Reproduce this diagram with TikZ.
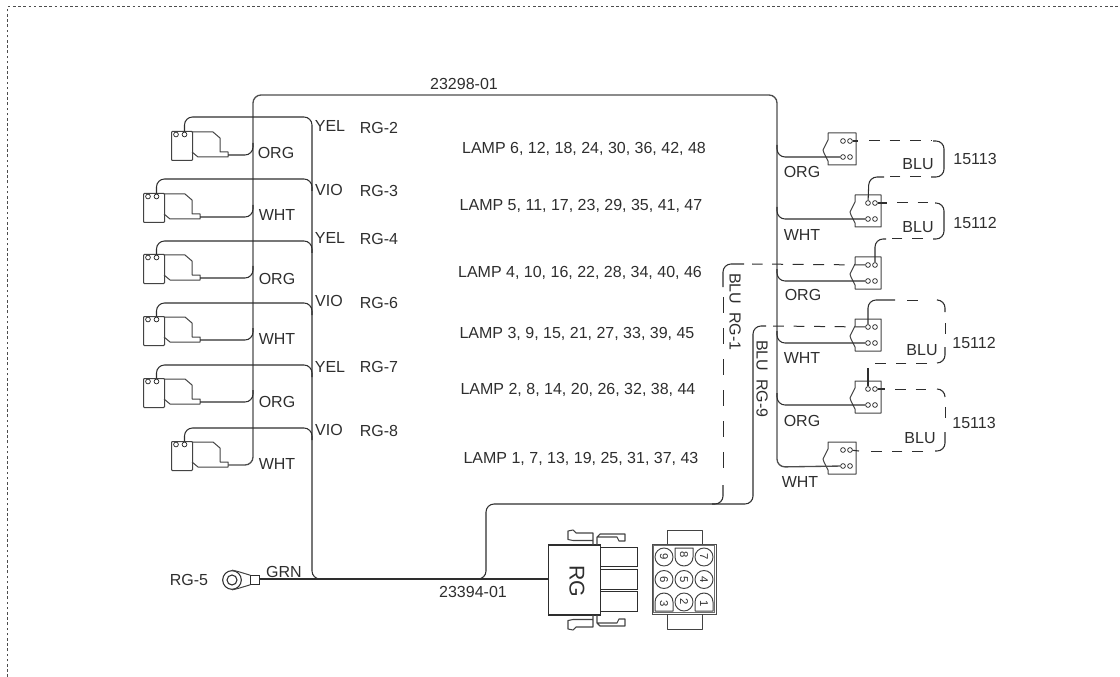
\documentclass[tikz,border=0pt]{standalone}
\usepackage{fontspec}
\setmainfont{Liberation Sans}
\definecolor{ink}{HTML}{2E2E2E}
\newcommand{\leftconn}[3]{% name, x, y
  \begin{scope}[shift={(#2,#3)}]
    \node[lbody,minimum width=21*0.75pt,minimum height=29*0.75pt,anchor=north west] (#1) at (0,0) {};
    \node[pin] (#1a) at (5,3.5) {};
    \node[pin] (#1b) at (13.5,3.5) {};
    \draw[thin line] (21,1) -- (42,1) -- (49,7) -- (49,21) -- (57,21) -- (57,26) -- (27,26) -- (21,21);
    \coordinate (#1t) at (57,24);
  \end{scope}}
\newcommand{\rightconn}[4]{% name, x, y, pin x offset
  \begin{scope}[shift={(#2,#3)}]
    \draw[thin line] (0,0) -- (#4+13,0) -- (#4+13,32) -- (0,32) -- (0,28) -- (-4,20) -- (-5,17) -- (0,7) -- cycle;
    \node[pin] (#1a) at (#4,8) {};
    \node[pin] (#1b) at (#4+7,8) {};
    \node[pin] (#1c) at (#4,24) {};
    \node[pin] (#1d) at (#4+7,24) {};
  \end{scope}}
\tikzset{
  x=0.75pt,y=-0.75pt,
  wire/.style={draw=ink,line width=0.8pt,rounded corners=6pt},
  trunk/.style={draw=ink!85,line width=1pt,rounded corners=6pt},
  dashwire/.style={draw=ink,line width=0.75pt,dash pattern=on 8.2pt off 7.2pt},
  longdash/.style={draw=ink,line width=0.75pt,dash pattern=on 12pt off 11.25pt},
  thin line/.style={draw=ink!90,line width=0.75pt,line join=round},
  lbody/.style={draw=ink!90,line width=0.75pt,inner sep=0pt,rounded corners=0.7pt},
  pin/.style={circle,draw=ink,fill=white,line width=0.55pt,minimum size=3.6pt,inner sep=0pt},
  lab/.style={text=ink,inner sep=0pt,yshift=-0.9pt,font=\fontsize{12}{14}\selectfont},
  rotlab/.style={text=ink,inner sep=0pt,rotate=-90,font=\fontsize{12}{14}\selectfont},
  num/.style={text=ink,inner sep=0pt,rotate=-90,font=\fontsize{8.5}{10}\selectfont},
  cav/.style={circle,draw=ink!90,line width=0.7pt,minimum size=13.5pt,inner sep=0pt},
}
\begin{document}
\begin{tikzpicture}
\useasboundingbox (0,0) rectangle (1120,677);
% dotted frame
\coordinate (fa) at (7.5,677);
\coordinate (fb) at (7.5,6.5);
\coordinate (fc) at (1120,6.5);
\draw[draw=ink!85,line width=0.75pt,dash pattern=on 2pt off 1.9pt] (fa) -- (fb) -- (fc);

% left connectors
\leftconn{La}{171}{131}
\leftconn{Lb}{143}{193}
\leftconn{Lc}{143}{254}
\leftconn{Ld}{143}{316}
\leftconn{Le}{143}{378}
\leftconn{Lf}{171}{441}

% right connectors
\rightconn{Ra}{828}{133}{15}
\rightconn{Rb}{855}{195}{13}
\rightconn{Rc}{855}{257}{13}
\rightconn{Rd}{855}{319}{13}
\rightconn{Re}{855}{381}{13}
\rightconn{Rf}{828}{442}{15}

% trunk with left and right branches
\coordinate (topL) at (253,95);
\coordinate (topR) at (777,95);
\coordinate (trunkL) at (253,465);
\coordinate (trunkR) at (777,467);
\draw[trunk] (Lft) -- (trunkL) -- (topL) -- (topR) -- (trunkR) -- (Rfc);
\foreach \n/\ty in {Lat/155,Lbt/217,Lct/278,Ldt/340,Let/402}{
  \draw[wire] (\n) -- (253,\ty) -- (253,\ty-12);
}
\foreach \n/\ty in {Rac/157,Rbc/219,Rcc/281,Rdc/343,Rec/405}{
  \draw[wire] (777,\ty-12) -- (777,\ty) -- (\n);
}

% second trunk
\coordinate (grnEnd) at (259,579);
\coordinate (secB) at (312,579);
\coordinate (plug) at (549,579);
\draw[draw=ink,line width=0.85pt] (grnEnd) -- (plug);
\draw[wire] (Lab.north) |- (312,117) -- (secB) -- (330,579);
\foreach \n/\ty in {Lbb/179,Lcb/241,Ldb/303,Leb/365,Lfb/428}{
  \draw[wire] (\n.north) |- (312,\ty) -- (312,\ty+12);
}

% harness to RG-9
\coordinate (h1) at (486,579);
\coordinate (h2) at (486,504);
\coordinate (h3) at (753,504);
\coordinate (h4) at (753,326);
\draw[wire] (474,579) -- (h1) -- (h2) -- (h3) -- (h4) -- (766,326);
\draw[dashwire] (773,326) -- (Rda);
% RG-1
\coordinate (v2) at (723,264);
\draw[wire] (723,287) -- (v2) -- (744,264);
\draw[dashwire] (Rca) -- (752,264);
\draw[longdash] (723,297) -- (723,481);
\draw[wire] (723,485) -- (723,504) -- (712,504);

% blue loops, right side
\draw[wire] (Rab) -- (858,141);
\draw[dashwire] (869,141) -- (931,141);
\draw[wire] (933,141) -- (944,141) -- (944,177) -- (931,177);
\draw[dashwire] (921,177) -- (890,177);
\draw[wire] (884,177) -- (869,177) -- (Rba);
\draw[wire] (Rbb) -- (887,203);
\draw[dashwire] (897,203) -- (929,203);
\draw[wire] (935,203) -- (944,203) -- (944,239) -- (933,239);
\draw[dashwire] (923,239) -- (892,239);
\draw[wire] (886,239) -- (875,239) -- (Rcb);
\draw[wire] (Rda) -- (868,300) -- (895,300);
\draw[dashwire] (907,300) -- (927,300);
\draw[wire] (938,300) -- (945,300) -- (945,312);
\draw[dashwire] (945,323) -- (945,340);
\draw[wire] (945,347) -- (945,363) -- (937,363);
\draw[dashwire] (927,363) -- (875,363);
\draw[wire] (Rea) -- (868,368);
\draw[wire] (Reb) -- (885,389);
\draw[dashwire] (895,389) -- (929,389);
\draw[wire] (937,389) -- (945,389) -- (945,397);
\draw[dashwire] (945,407) -- (945,422);
\draw[wire] (945,432) -- (945,451) -- (935,451);
\draw[dashwire] (923,451) -- (870,451);
\draw[wire] (859,451) -- (Rfb);

% ring terminal
\node[circle,draw=ink,line width=0.8pt,minimum size=14pt,inner sep=0pt,fill=white] (ring) at (232,580) {};
\node[circle,draw=ink,line width=0.8pt,minimum size=7.5pt,inner sep=0pt] (ringi) at (232,580) {};
\node[draw=ink,line width=0.7pt,minimum width=6.5pt,minimum height=6.5pt,inner sep=0pt] (lug) at (255,580) {};
\draw[thin line] (ring.north) -- (238,571.5) -- (lug.north west);
\draw[thin line] (ring.south) -- (238,588.5) -- (lug.south west);

% RG plug
\node[draw=ink,line width=0.8pt,minimum width=38.5pt,minimum height=52.5pt,inner sep=0pt] (plugbody) at (574.5,580) {};
\node[rotlab,font=\fontsize{16}{18}\selectfont] (rg) at (577,581) {RG};
\foreach \n/\cy in {pa/557,pb/579.5,pc/601.5}{
  \node[draw=ink,line width=0.8pt,minimum width=28pt,minimum height=14.5pt,inner sep=0pt] (\n) at (619,\cy) {};
}
\draw[thin line,line width=0.8pt] (593,545) -- (593,533) -- (576,533) -- (573,530) -- (568,531) -- (568,539.5) -- (573,540.5) -- (593,540.5);
\draw[thin line,line width=0.8pt] (597,545) -- (597,537) -- (617,537) -- (619,541) -- (625,541) -- (625,534) -- (600,534) -- (597,537);
\draw[thin line,line width=0.8pt] (593,615) -- (593,627) -- (576,627) -- (573,630) -- (568,629) -- (568,620.5) -- (573,619.5) -- (593,619.5);
\draw[thin line,line width=0.8pt] (597,615) -- (597,623) -- (617,623) -- (619,619) -- (625,619) -- (625,626) -- (600,626) -- (597,623);

% socket
\node[draw=ink!85,line width=0.55pt,minimum width=48pt,minimum height=52.5pt,inner sep=0pt] (sock) at (684,579) {};
\node[draw=ink!70,line width=0.4pt,minimum width=45.4pt,minimum height=50pt,inner sep=0pt] (socki) at (684,579) {};
\draw[thin line] (667,544) -- (667,530) -- (702,530) -- (702,544);
\draw[thin line] (667,614) -- (667,629) -- (702,629) -- (702,614);
\foreach \n/\cx/\cy/\t in {c9/664/557/9,c7/704/557/7,c6/664/579.5/6,c5/684/579.5/5,c4/704/579.5/4,c2/684/602/2}{
  \node[cav] (\n) at (\cx,\cy) {};
  \node[num] at (\cx,\cy) {\t};
}
\draw[thin line] (675,548) -- (693,548) -- (693,557) arc[start angle=0,end angle=-180,x radius=9,y radius=-9] -- cycle;
\node[num] (n8) at (684,555) {8};
\draw[thin line] (655,611) -- (673,611) -- (673,602) arc[start angle=0,end angle=180,x radius=9,y radius=-9] -- cycle;
\node[num] (n3) at (664,604) {3};
\draw[thin line] (695,611) -- (713,611) -- (713,602) arc[start angle=0,end angle=180,x radius=9,y radius=-9] -- cycle;
\node[num] (n1) at (704,604) {1};

% labels
\foreach \n/\x/\y/\t in {
 t1/464/83/23298-01,
 t2/330/125/YEL,t3/379/127/RG-2,t4/276/152/ORG,
 t5/329/189/VIO,t6/379/190/RG-3,t7/277/214/WHT,
 t8/330/237/YEL,t9/379/238/RG-4,t10/277/278/ORG,
 t11/329/300/VIO,t12/379/302/RG-6,t13/277/338/WHT,
 t14/330/366/YEL,t15/379/366/RG-7,t16/277/401/ORG,
 t17/329/429/VIO,t18/379/430/RG-8,t19/277/463/WHT,
 t20/802/171/ORG,t21/802/234/WHT,t22/803/294/ORG,
 t23/802/357/WHT,t24/802/420/ORG,t25/800/481/WHT,
 t26/918/163/BLU,t27/918/226/BLU,t28/922/349/BLU,t29/920/437/BLU,
 t30/975/158/15113,t31/975/222/15112,t32/974/342/15112,t33/974/422/15113,
 t34/189/579/RG-5,t35/284/571/GRN,t36/473/591/23394-01}{
  \node[lab] (\n) at (\x,\y) {\t};
}
\node[lab] (l6) at (584,148) {LAMP 6, 12, 18, 24, 30, 36, 42, 48};
\node[lab] (l5) at (581,205) {LAMP 5, 11, 17, 23, 29, 35, 41, 47};
\node[lab] (l4) at (580,272) {LAMP 4, 10, 16, 22, 28, 34, 40, 46};
\node[lab] (l3) at (577,333) {LAMP 3, 9, 15, 21, 27, 33, 39, 45};
\node[lab] (l2) at (578,389) {LAMP 2, 8, 14, 20, 26, 32, 38, 44};
\node[lab] (l1) at (581,458) {LAMP 1, 7, 13, 19, 25, 31, 37, 43};
\node[rotlab] (b1) at (735,312) {BLU\hspace{0.5em}RG-1};
\node[rotlab] (b9) at (762,379) {BLU\hspace{0.5em}RG-9};
\end{tikzpicture}
\end{document}
